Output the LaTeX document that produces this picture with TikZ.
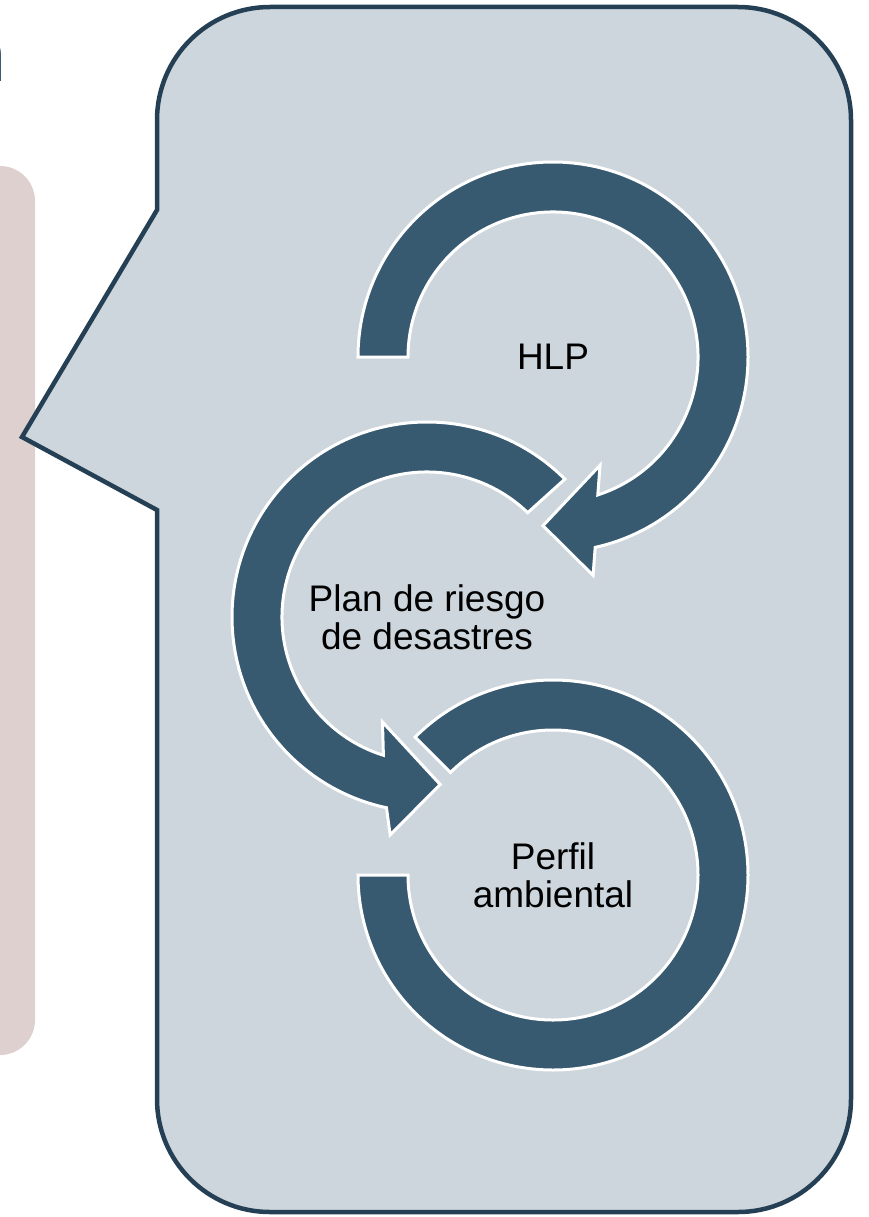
\documentclass[tikz,border=0pt]{standalone}
\usepackage{fontspec}
\setmainfont{Liberation Sans}
\usepackage{xcolor}
\usetikzlibrary{calc}

\definecolor{calloutfill}{RGB}{205,214,220}
\definecolor{calloutline}{RGB}{37,64,84}
\definecolor{arrowfill}{RGB}{55,90,112}
\definecolor{sidepink}{RGB}{221,208,207}
\definecolor{titleteal}{RGB}{24,64,88}

\begin{document}
\begin{tikzpicture}[
    x=1pt, y=-1pt,
    callout/.style={draw=calloutline, fill=calloutfill, line width=4.5pt, line join=miter},
    sidebox/.style={fill=sidepink, rounded corners=35pt},
    cyclearrow/.style={draw=white, fill=arrowfill, line width=3pt, line join=miter},
    cycletext/.style={font=\fontsize{37}{38}\selectfont, align=center, text=black, inner sep=0pt}
]
\useasboundingbox (0,0) rectangle (869,1217);

% Side panel and title fragment
\fill [sidebox] (-60,166) rectangle (35,1055);
\node [anchor=base east, inner sep=0pt, font=\fontsize{75}{75}\selectfont, text=titleteal] (titlefrag) at (6.5,82) {n};

% Callout
\draw [callout] (157,210) -- (157,120) arc[start angle=180, end angle=270, radius=113]
    -- (738,7) arc[start angle=270, end angle=360, radius=113]
    -- (851,1099) arc[start angle=0, end angle=90, radius=113]
    -- (270,1212) arc[start angle=90, end angle=180, radius=113]
    -- (157,510) -- (22,437) -- cycle;

% Circle centres
\coordinate (hlpc) at (553,357);
\coordinate (planc) at (427,617);
\coordinate (perfc) at (553,875);

% Circular arrows
\draw [cyclearrow] ($(hlpc)+(180:195)$) arc[start angle=-180, end angle=77.5, radius=195]
    -- ($(hlpc)+(79.6:222)$) -- ($(hlpc)+(93.4:169)$) -- ($(hlpc)+(66.5:118)$)
    -- ($(hlpc)+(72:145)$) arc[start angle=72, end angle=-180, radius=145] -- cycle;
\draw [cyclearrow] ($(planc)+(-45:195)$) arc[start angle=-45, end angle=-258, radius=195]
    -- ($(planc)+(99.6:221)$) -- ($(planc)+(85.5:168)$) -- ($(planc)+(113:114)$)
    -- ($(planc)+(107.5:145)$) arc[start angle=-252.5, end angle=-46, radius=145] -- cycle;
\draw [cyclearrow] ($(perfc)+(-135:195)$) arc[start angle=-135, end angle=180, radius=195]
    -- ($(perfc)+(180:145)$) arc[start angle=180, end angle=-135, radius=145] -- cycle;

% Labels
\node [cycletext] (hlp) at (hlpc) {HLP};
\node [cycletext] (plan) at (planc) {Plan de riesgo\\de desastres};
\node [cycletext] (perfil) at (perfc) {Perfil\\ambiental};
\end{tikzpicture}
\end{document}
